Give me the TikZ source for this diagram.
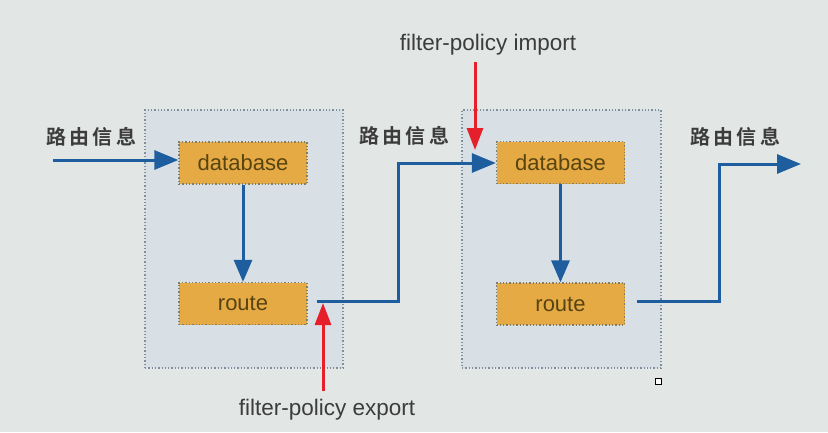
\documentclass[tikz,border=0pt]{standalone}
\usepackage{fontspec}
\setmainfont{Liberation Sans}
\newfontfamily\cjk{Noto Sans CJK SC}[BoldFont={* Bold}]
\usetikzlibrary{arrows.meta,calc}
\definecolor{bg}{HTML}{E2E6E4}
\definecolor{contfill}{HTML}{D8E0E6}
\definecolor{contline}{HTML}{7F8FA0}
\definecolor{boxfill}{HTML}{E6AA45}
\definecolor{boxline}{HTML}{7F7F68}
\definecolor{blueline}{HTML}{1E5E9E}
\definecolor{redline}{HTML}{E5202A}
\definecolor{txt}{HTML}{3C3C3C}
\definecolor{boxtxt}{HTML}{574410}
\tikzset{
  container/.style={draw=contline, fill=contfill, dotted, line width=1.3pt, inner sep=0pt},
  funcbox/.style={draw=boxline, fill=boxfill, dotted, line width=1.3pt, inner sep=0pt,
    minimum width=128pt, minimum height=42pt, text=boxtxt, font=\fontsize{22}{24}\selectfont},
  flow/.style={draw=blueline, line width=3pt, -{Triangle[length=24pt,width=19pt]}},
  flowv/.style={draw=blueline, line width=3pt, -{Triangle[length=22pt,width=18pt]}},
  policy/.style={draw=redline, line width=3pt, -{Triangle[length=22pt,width=16pt]}},
  cnlabel/.style={text=txt, font=\cjk\bfseries\fontsize{20}{22}\selectfont, inner sep=0pt},
  enlabel/.style={text=txt, font=\fontsize{22.5}{24}\selectfont, inner sep=0pt}
}
\begin{document}
\begin{tikzpicture}[x=1pt,y=-1pt]
  \fill[bg] (0,0) rectangle (828,432);
  \useasboundingbox (0,0) rectangle (828,432);
  % containers
  \node[container, minimum width=198pt, minimum height=258pt] (c1) at (244,239) {};
  \node[container, minimum width=199pt, minimum height=258pt] (c2) at (561.5,239) {};
  % inner boxes
  \node[funcbox] (db1) at (243,163) {database};
  \node[funcbox] (rt1) at (243,303.5) {route};
  \node[funcbox] (db2) at (560.5,162.5) {database};
  \node[funcbox] (rt2) at (560.5,304) {route};
  % labels
  \node[cnlabel] (l1) at (91,137) {路\,由\,信\,息};
  \node[cnlabel] (l2) at (404,136) {路\,由\,信\,息};
  \node[cnlabel] (l3) at (735,137) {路\,由\,信\,息};
  \node[enlabel] (imp) at (488,45) {filter-policy import};
  \node[enlabel] (exp) at (327,410) {filter-policy export};
  % coordinates
  \coordinate (in) at (53,160);
  \coordinate (k1) at (398,163);
  \coordinate (k2) at (719,164);
  \coordinate (out) at (801,164);
  \coordinate (impS) at (475,62);
  \coordinate (impE) at (475,150);
  \coordinate (expS) at (323,391);
  \coordinate (expE) at (323,303);
  % blue flows
  \draw[flow] (in) -- (in -| db1.west);
  \draw[flowv] (db1.south) -- (rt1.north);
  \draw[flow] ([xshift=9pt,yshift=2.5pt]rt1.east) -| (k1) -- (k1 -| db2.west);
  \draw[flowv] (db2.south) -- (rt2.north);
  \draw[flow] ([xshift=12pt,yshift=3pt]rt2.east) -| (k2) -- (out);
  % red policy arrows
  \draw[policy] (impS) -- (impE);
  \draw[policy] (expS) -- (expE);
  % small square mark
  \node[draw=black, fill=white, line width=0.8pt, minimum size=6pt, inner sep=0pt] (mk) at (658,381) {};
\end{tikzpicture}
\end{document}
